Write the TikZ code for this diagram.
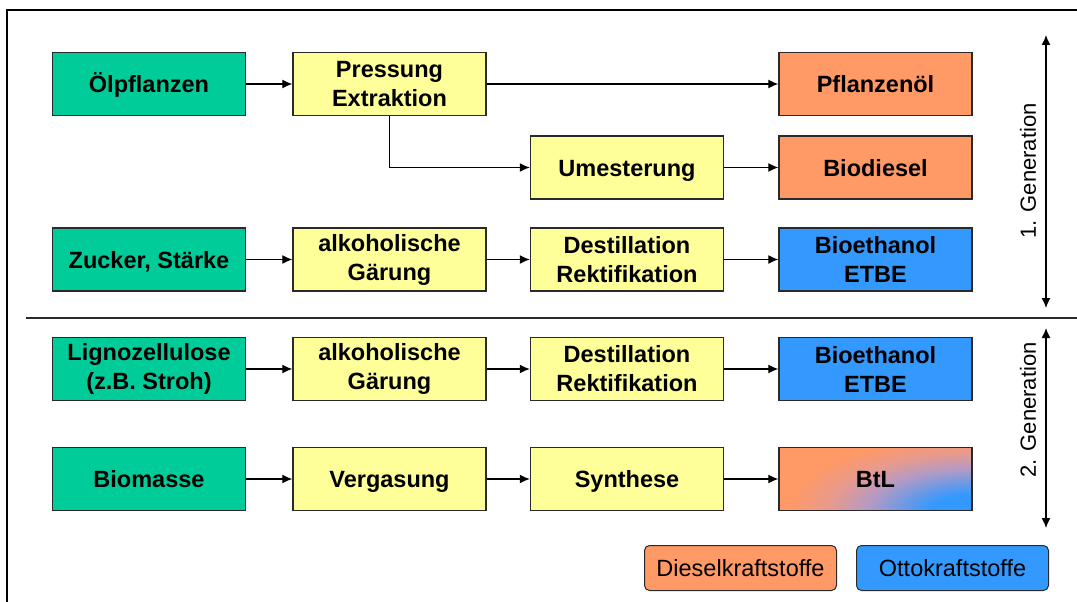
\documentclass[tikz,border=0pt]{standalone}
\usepackage{fontspec}
\setmainfont{Liberation Sans}
\usetikzlibrary{arrows.meta}
\definecolor{grn}{HTML}{00CC99}
\definecolor{ylw}{HTML}{FFFF99}
\definecolor{org}{HTML}{FF9966}
\definecolor{blu}{HTML}{3399FF}
\definecolor{edge}{HTML}{2A2A2A}
\definecolor{btlmid}{HTML}{B49AC4}
\definecolor{btlpink}{HTML}{E69A8E}
\pgfdeclarelayer{background}
\pgfsetlayers{background,main}
\pgfdeclareradialshading{btlshade}{\pgfpoint{0bp}{0bp}}{color(0bp)=(blu); color(5bp)=(blu); color(12.5bp)=(btlmid); color(17bp)=(btlpink); color(22bp)=(org); color(25bp)=(org); color(50bp)=(org)}
\begin{document}
\begin{tikzpicture}[x=1pt,y=-1pt,
  box/.style={draw=edge, line width=1.4pt, minimum width=193pt, minimum height=63pt, inner sep=0pt, align=center, font=\fontsize{23.5}{29}\selectfont\bfseries},
  one/.style={text height=17pt, text depth=0pt},
  src/.style={box, fill=grn},
  proc/.style={box, fill=ylw},
  diesel/.style={box, fill=org},
  otto/.style={box, fill=blu},
  conn/.style={draw=black, line width=1.3pt, -{Latex[length=10pt,width=9pt]}},
  legendbox/.style={draw=edge, line width=1pt, rounded corners=5pt, minimum width=192pt, minimum height=45pt, inner sep=0pt, text height=17pt, text depth=0pt, font=\fontsize{23.5}{28}\selectfont},
  gen/.style={rotate=90, font=\fontsize{22}{26}\selectfont},
  genarrow/.style={draw=black, line width=1.3pt, {Latex[length=10pt,width=9pt]}-{Latex[length=10pt,width=9pt]}}]
\useasboundingbox (0,0) rectangle (1077,602);
% frame
\draw[line width=2.6pt] (7,615) -- (7,10) -- (1090,10);
% separator
\draw[line width=1.3pt, draw=edge] (26,318) -- (1090,318);

% row 1
\node[src, one] (oel) at (149,84) {Ölpflanzen};
\node[proc] (pre) at (389.5,84) {Pressung\\Extraktion};
\node[diesel, one] (pfl) at (875.5,84) {Pflanzenöl};
% row 2
\node[proc, one] (ume) at (627,167.5) {Umesterung};
\node[diesel, one] (bio) at (875.5,167.5) {Biodiesel};
% row 3
\node[src, one] (zuc) at (149,259.5) {Zucker, Stärke};
\node[proc] (gae1) at (389.5,259.5) {alkoholische\\Gärung};
\node[proc] (des1) at (627,259.5) {Destillation\\Rektifikation};
\node[otto] (eth1) at (875.5,259.5) {Bioethanol\\ETBE};
% row 4
\node[src] (lig) at (149,369) {Lignozellulose\\(z.B. Stroh)};
\node[proc] (gae2) at (389.5,369) {alkoholische\\Gärung};
\node[proc] (des2) at (627,369) {Destillation\\Rektifikation};
\node[otto] (eth2) at (875.5,369) {Bioethanol\\ETBE};
% row 5
\node[src, one] (bms) at (149,479) {Biomasse};
\node[proc, one] (ver) at (389.5,479) {Vergasung};
\node[proc, one] (syn) at (627,479) {Synthese};
\node[box, one] (btl) at (875.5,479) {BtL};
\begin{pgfonlayer}{background}
\fill[org] (btl.south west) rectangle (btl.north east);
\begin{scope}
\clip ([shift={(0.6,-0.6)}]btl.south west) rectangle ([shift={(-0.6,0.6)}]btl.north east);
\shade[shading=btlshade] (btl.south east) ellipse [x radius=210pt, y radius=85pt];
\end{scope}
\end{pgfonlayer}

% connectors
\draw[conn] (oel) -- (pre);
\draw[conn] (pre) -- (pfl);
\draw[conn] (pre.south) |- (ume.west);
\draw[conn] (ume) -- (bio);
\draw[conn] (zuc) -- (gae1);
\draw[conn] (gae1) -- (des1);
\draw[conn] (des1) -- (eth1);
\draw[conn] (lig) -- (gae2);
\draw[conn] (gae2) -- (des2);
\draw[conn] (des2) -- (eth2);
\draw[conn] (bms) -- (ver);
\draw[conn] (ver) -- (syn);
\draw[conn] (syn) -- (btl);

% generation arrows
\coordinate (g1t) at (1046,35);
\coordinate (g1b) at (1046,308);
\coordinate (g2t) at (1046,328);
\coordinate (g2b) at (1046,528);
\draw[genarrow] (g1t) -- (g1b);
\draw[genarrow] (g2t) -- (g2b);
\node[gen] (gen1) at (1028,171) {1. Generation};
\node[gen] (gen2) at (1028,410) {2. Generation};

% legend
\node[legendbox, fill=org] (leg1) at (740.5,568) {Dieselkraftstoffe};
\node[legendbox, fill=blu] (leg2) at (952.5,568) {Ottokraftstoffe};
\end{tikzpicture}
\end{document}
